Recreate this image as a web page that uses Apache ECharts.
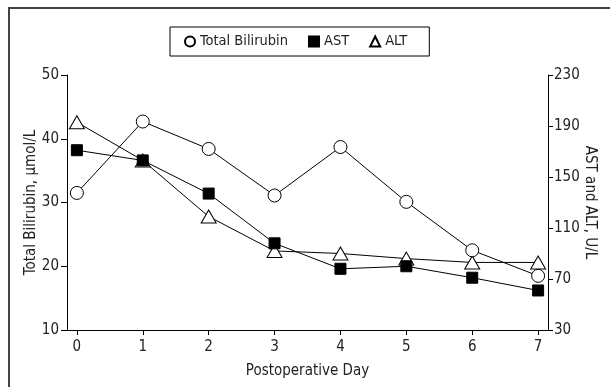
<!DOCTYPE html>
<html>
<head>
<meta charset="utf-8">
<script src="https://cdn.jsdelivr.net/npm/echarts@6/dist/echarts.min.js"></script>
<style>
  html, body { margin: 0; padding: 0; background: #fff; }
  #main { width: 610px; height: 387px; }
</style>
</head>
<body>
<div id="main"></div>
<script>
// 术后天数
var days = [0, 1, 2, 3, 4, 5, 6, 7];
// 总胆红素 µmol/L（左轴）
var bilirubin = [31.5, 42.7, 38.4, 31.1, 38.7, 30.1, 22.5, 18.5];
// AST / ALT U/L（右轴）
var ast = [171, 163, 137, 98, 78, 80, 71, 61];
var alt = [193, 163, 119, 92, 90, 86, 83, 83];

var FONT = "'Liberation Sans Narrow', 'DejaVu Sans Condensed', 'Roboto', sans-serif";

function pairs(vals) {
    return days.map(function (d, i) { return [d, vals[i]]; });
}

var myChart = echarts.init(document.getElementById('main'));

myChart.setOption({
    animation: false,
    textStyle: { fontFamily: FONT, color: '#222' },
    graphic: [{
        type: 'polyline',
        shape: { points: [[9, 387], [9, 8], [610, 8]] },
        style: { stroke: '#444', lineWidth: 2, fill: null }
    }],
    legend: {
        data: [
            { name: 'Total Bilirubin', icon: 'circle' },
            { name: 'AST', icon: 'rect' },
            { name: 'ALT', icon: 'triangle' }
        ],
        left: 170,
        top: 27,
        borderColor: '#000',
        borderWidth: 1,
        borderRadius: 0,
        padding: [7, 22, 7, 14],
        itemGap: 20,
        itemWidth: 10,
        itemHeight: 10,
        textStyle: { fontFamily: FONT, fontSize: 14.5, color: '#222' }
    },
    grid: { left: 67, right: 62, top: 75, bottom: 57 },
    xAxis: {
        type: 'value',
        min: -0.15,
        max: 7.15,
        name: 'Postoperative Day',
        nameLocation: 'middle',
        nameMoveOverlap: false,
        nameGap: 34,
        nameTextStyle: { fontSize: 15, color: '#222' },
        splitLine: { show: false },
        axisLine: { onZero: false, lineStyle: { color: '#000' } },
        axisTick: { customValues: days, length: 5, lineStyle: { color: '#000' } },
        axisLabel: { customValues: days, fontSize: 15, color: '#222', margin: 10 }
    },
    yAxis: [{
        type: 'value',
        min: 10,
        max: 50,
        interval: 10,
        name: 'Total Bilirubin, µmol/L',
        nameLocation: 'middle',
        nameMoveOverlap: false,
        nameGap: 28,
        nameTextStyle: { fontSize: 15, color: '#222' },
        splitLine: { show: false },
        axisLine: { show: true, onZero: false, lineStyle: { color: '#000' } },
        axisTick: { show: true, length: 6, lineStyle: { color: '#000' } },
        axisLabel: { fontSize: 15, color: '#222', margin: 8 }
    }, {
        type: 'value',
        position: 'right',
        min: 30,
        max: 230,
        interval: 40,
        name: 'AST and ALT, U/L',
        nameLocation: 'middle',
        nameMoveOverlap: false,
        nameRotate: -90,
        nameGap: 34,
        nameTextStyle: { fontSize: 15, color: '#222' },
        splitLine: { show: false },
        axisLine: { show: true, onZero: false, lineStyle: { color: '#000' } },
        axisTick: { show: true, length: 5, lineStyle: { color: '#000' } },
        axisLabel: { fontSize: 15, color: '#222', margin: 6 }
    }],
    series: [{
        name: 'Total Bilirubin',
        type: 'line',
        yAxisIndex: 0,
        data: pairs(bilirubin),
        symbol: 'circle',
        symbolSize: 13,
        lineStyle: { color: '#000', width: 1 },
        itemStyle: { color: '#fff', borderColor: '#000', borderWidth: 1 },
        z: 3
    }, {
        name: 'ALT',
        type: 'line',
        yAxisIndex: 1,
        data: pairs(alt),
        symbol: 'triangle',
        symbolSize: [15, 13],
        lineStyle: { color: '#000', width: 1 },
        itemStyle: { color: '#fff', borderColor: '#000', borderWidth: 1 },
        z: 2
    }, {
        name: 'AST',
        type: 'line',
        yAxisIndex: 1,
        data: pairs(ast),
        symbol: 'rect',
        symbolSize: 11,
        lineStyle: { color: '#000', width: 1 },
        itemStyle: { color: '#000', borderColor: '#000', borderWidth: 1 },
        z: 4
    }]
});
</script>
</body>
</html>
